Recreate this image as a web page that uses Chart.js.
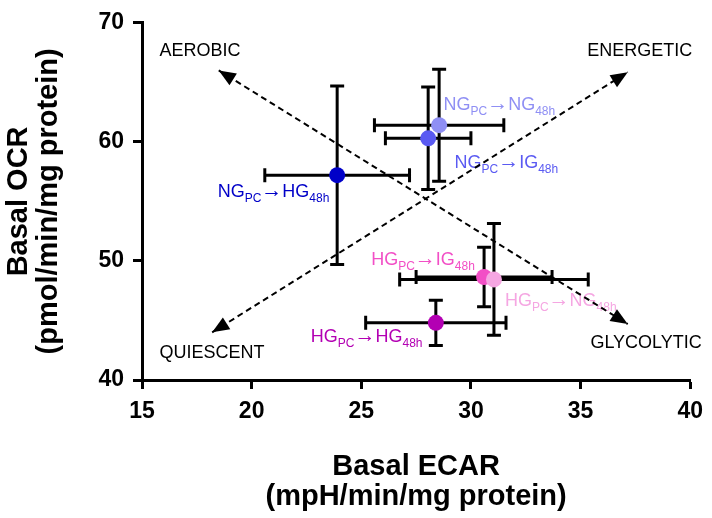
<!DOCTYPE html>
<html>
<head>
<meta charset="utf-8">
<script src="https://cdn.jsdelivr.net/npm/chart.js@4.4.0/dist/chart.umd.min.js"></script>
<style>
html, body { margin: 0; padding: 0; background: #fff; }
</style>
</head>
<body>
<canvas id="chart" width="712" height="518"></canvas>
<script>
// Groups: culture condition before (PC) -> after 48h
const fromState = ['NG', 'NG', 'NG', 'HG', 'HG', 'HG'];
const toState = ['HG', 'IG', 'NG', 'HG', 'IG', 'NG'];
const ecar = [23.9, 28.05, 28.55, 28.4, 30.6, 31.05];
const ecarErr = [3.3, 1.95, 2.95, 3.2, 3.1, 4.3];
const ocr = [57.2, 60.3, 61.4, 44.8, 48.65, 48.45];
const ocrErr = [7.5, 4.3, 4.7, 1.9, 2.5, 4.7];

const xTicks = [15, 20, 25, 30, 35, 40];
const yTicks = [40, 50, 60, 70];

// dashed double-headed arrows, ends in axis units
const arrowStart = [[18.2, 44.0], [18.5, 66.0]];
const arrowEnd = [[37.15, 65.85], [37.15, 44.7]];

const quadrants = ['AEROBIC', 'ENERGETIC', 'QUIESCENT', 'GLYCOLYTIC'];
const quadrantAt = [[15.8, 67.2], [35.3, 67.25], [15.8, 41.85], [35.45, 42.7]];

// where each group label starts (left, baseline) in axis units
const labelAt = [[18.45, 55.35], [29.25, 57.8], [28.75, 62.7], [22.7, 43.2], [25.45, 49.7], [31.55, 46.2]];

const colors = ['#0000c8', '#5a5af2', '#8f8ff4', '#b300b3', '#f24fc6', '#f5a6e2'];
const FONT = "'Liberation Sans', Arial, sans-serif";

function drawLabel(ctx, x, y, from, to, color) {
    ctx.fillStyle = color;
    ctx.textBaseline = 'alphabetic';
    ctx.textAlign = 'left';
    const parts = [
        [from, 18, 0], ['PC', 12, 5], ['\u2192', 21, 0], [to, 18, 0], ['48h', 12, 5]
    ];
    parts.forEach(([t, size, dy]) => {
        ctx.font = size + 'px ' + FONT;
        ctx.fillText(t, x, y + dy);
        x += ctx.measureText(t).width;
    });
}

const overlay = {
    id: 'overlay',
    beforeDatasetsDraw(chart) {
        const { ctx, scales: { x, y } } = chart;
        ctx.save();
        // quadrant names
        ctx.font = '18px ' + FONT;
        ctx.fillStyle = '#000';
        ctx.textAlign = 'left';
        ctx.textBaseline = 'alphabetic';
        quadrants.forEach((q, i) => {
            ctx.fillText(q, x.getPixelForValue(quadrantAt[i][0]), y.getPixelForValue(quadrantAt[i][1]));
        });
        // group labels
        labelAt.forEach((p, i) => {
            drawLabel(ctx, x.getPixelForValue(p[0]), y.getPixelForValue(p[1]), fromState[i], toState[i], colors[i]);
        });
        ctx.restore();
    },
    beforeDatasetDraw(chart, args) {
        if (args.index !== 0) return;
        const { ctx, scales: { x, y } } = chart;
        ctx.save();
        ctx.strokeStyle = '#000';
        ctx.lineWidth = 3;
        const cap = 7;
        ecar.forEach((v, i) => {
            const px = x.getPixelForValue(v), py = y.getPixelForValue(ocr[i]);
            const x0 = x.getPixelForValue(v - ecarErr[i]), x1 = x.getPixelForValue(v + ecarErr[i]);
            const y0 = y.getPixelForValue(ocr[i] - ocrErr[i]), y1 = y.getPixelForValue(ocr[i] + ocrErr[i]);
            ctx.beginPath();
            ctx.moveTo(x0, py); ctx.lineTo(x1, py);
            ctx.moveTo(x0, py - cap); ctx.lineTo(x0, py + cap);
            ctx.moveTo(x1, py - cap); ctx.lineTo(x1, py + cap);
            ctx.moveTo(px, y0); ctx.lineTo(px, y1);
            ctx.moveTo(px - cap, y0); ctx.lineTo(px + cap, y0);
            ctx.moveTo(px - cap, y1); ctx.lineTo(px + cap, y1);
            ctx.stroke();
        });
        ctx.restore();
    },
    afterDatasetDraw(chart, args) {
        if (args.index === 0) return;
        const { ctx } = chart;
        const pts = args.meta.data;
        const a = pts[0], b = pts[1];
        ctx.save();
        ctx.fillStyle = '#000';
        [[a, b], [b, a]].forEach(([tip, other]) => {
            const ang = Math.atan2(tip.y - other.y, tip.x - other.x);
            const len = 17, half = 7;
            ctx.beginPath();
            ctx.moveTo(tip.x, tip.y);
            ctx.lineTo(tip.x - len * Math.cos(ang) + half * Math.sin(ang), tip.y - len * Math.sin(ang) - half * Math.cos(ang));
            ctx.lineTo(tip.x - len * Math.cos(ang) - half * Math.sin(ang), tip.y - len * Math.sin(ang) + half * Math.cos(ang));
            ctx.closePath();
            ctx.fill();
        });
        ctx.restore();
    }
};

const axisCommon = {
    type: 'linear',
    grid: { drawOnChartArea: false, drawTicks: true, tickLength: 9, tickWidth: 3, tickColor: '#000' },
    border: { display: true, width: 3, color: '#000' },
    ticks: { color: '#000', padding: 9, font: { family: FONT, size: 23, weight: 'bold' }, callback: v => String(v) }
};

const ctx = document.getElementById('chart').getContext('2d');
new Chart(ctx, {
    type: 'scatter',
    data: {
        datasets: [
            {
                data: ecar.map((v, i) => ({ x: v, y: ocr[i] })),
                pointBackgroundColor: colors,
                pointBorderWidth: 0,
                pointRadius: 8,
                order: 0
            },
            ...arrowStart.map((s, i) => ({
                data: [{ x: s[0], y: s[1] }, { x: arrowEnd[i][0], y: arrowEnd[i][1] }],
                showLine: true,
                borderColor: '#000',
                borderWidth: 2,
                borderDash: [6, 4],
                pointRadius: 0,
                order: 2
            }))
        ]
    },
    options: {
        responsive: false,
        animation: false,
        layout: { padding: { top: 14, right: 19, left: 0, bottom: 0 } },
        plugins: { legend: { display: false }, tooltip: { enabled: false } },
        scales: {
            x: {
                ...axisCommon,
                min: 15, max: 40,
                afterBuildTicks: s => { s.ticks = xTicks.map(v => ({ value: v })); },
                afterFit: s => { s.height = 138; },
                title: {
                    display: true, color: '#000',
                    text: ['Basal ECAR', '(mpH/min/mg protein)'],
                    font: { family: FONT, size: 29, weight: 'bold', lineHeight: 1.03 },
                    padding: { top: 0, bottom: 6 }
                }
            },
            y: {
                ...axisCommon,
                min: 40, max: 70,
                afterBuildTicks: s => { s.ticks = yTicks.map(v => ({ value: v })); },
                afterFit: s => { s.width = 142; },
                title: {
                    display: true, color: '#000',
                    text: ['Basal OCR', '(pmol/min/mg protein)'],
                    font: { family: FONT, size: 29, weight: 'bold', lineHeight: 1.03 },
                    padding: { top: 4, bottom: 0 }
                }
            }
        }
    },
    plugins: [overlay]
});
</script>
</body>
</html>
